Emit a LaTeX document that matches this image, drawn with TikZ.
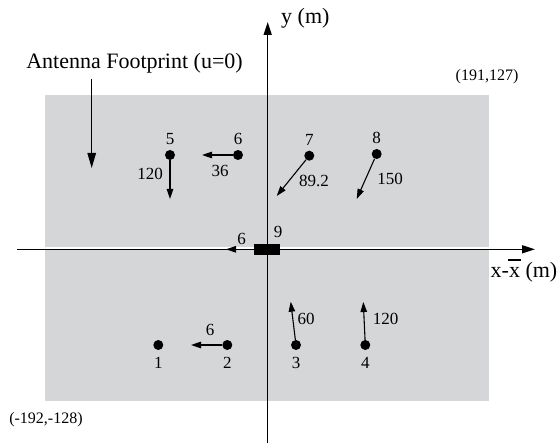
\documentclass[tikz,border=0pt]{standalone}
\usepackage{fontspec}
\setmainfont{Liberation Serif}
\usetikzlibrary{arrows.meta,positioning}
\definecolor{footgray}{HTML}{D5D6D8}
\tikzset{>={Triangle[length=10pt,width=6.5pt]},dot/.style={circle,fill=black,inner sep=0pt,minimum size=10pt},vel/.style={->,line width=1.1pt},axis/.style={-{Triangle[length=13pt,width=8pt]},line width=1.4pt},num/.style={font=\fontsize{17}{17}\selectfont,inner sep=0pt},lbl/.style={font=\fontsize{22}{22}\selectfont,inner sep=0pt},corner/.style={font=\fontsize{16}{16}\selectfont,inner sep=0pt}}

\begin{document}
\begin{tikzpicture}[x=1pt,y=-1pt]
\useasboundingbox (0,0) rectangle (558,444);
\fill[footgray] (45,95) rectangle (489,401);
\fill[white] (45,246.7) rectangle (489,248.6);
% axes
\coordinate (xl) at (17,249.3); \coordinate (xr) at (535,249.3);
\coordinate (yb) at (267.7,443); \coordinate (yt) at (267.7,22);
\draw[axis] (xl) -- (xr);
\draw[axis] (yb) -- (yt);
\node[lbl,anchor=west] (ylab) at (281,18) {y (m)};
\node[lbl] (xlab) at (524,271) {x-\rlap{\hspace{-0.05em}\rule[0.78em]{0.6em}{0.06em}}x (m)};
% targets
\foreach \n/\x/\y in {1/158.3/345,2/227.3/345,3/296/345,4/365.3/345,5/170/155,6/238/155,7/309.3/155.7,8/376.7/154}{\node[dot] (t\n) at (\x,\y) {};}
\node[fill=black,minimum width=26pt,minimum height=10.7pt,inner sep=0pt] (t9) at (267,249.3) {};
\foreach \n in {1,...,4}{\node[num,below=7pt of t\n] (n\n) {\n};}
\foreach \n in {5,...,8}{\node[num,above=5pt of t\n] (n\n) {\n};}
\node[num] (n9) at (278,232) {9};
% velocities
\foreach \n/\x/\y in {2/191/345,3/290.7/301.7,4/363.3/302,5/170/199,6/202/155,7/276.7/196,8/356.7/199,9/226/249.3}{\coordinate (e\n) at (\x,\y);}
\foreach \n in {2,...,9}{\draw[vel] (t\n) -- (e\n);}
\foreach \n/\x/\y/\v in {2/210/330/6,3/306/319/60,4/385.5/319/120,5/150/174/120,6/220/171/36,7/314/181/89.2,8/390/179/150,9/241.7/239/6}{\node[num] (v\n) at (\x,\y) {\v};}
% footprint
\node[corner] (ne) at (487,77) {(191,127)};
\node[corner] (sw) at (46,420) {(-192,-128)};
\node[lbl] (ant) at (134.5,63) {Antenna Footprint (u=0)};
\coordinate (fq) at (91.7,79); \coordinate (fp) at (91.7,168);
\draw[line width=1.1pt,-{Triangle[length=15pt,width=8.5pt]}] (fq) -- (fp);
\end{tikzpicture}
\end{document}
